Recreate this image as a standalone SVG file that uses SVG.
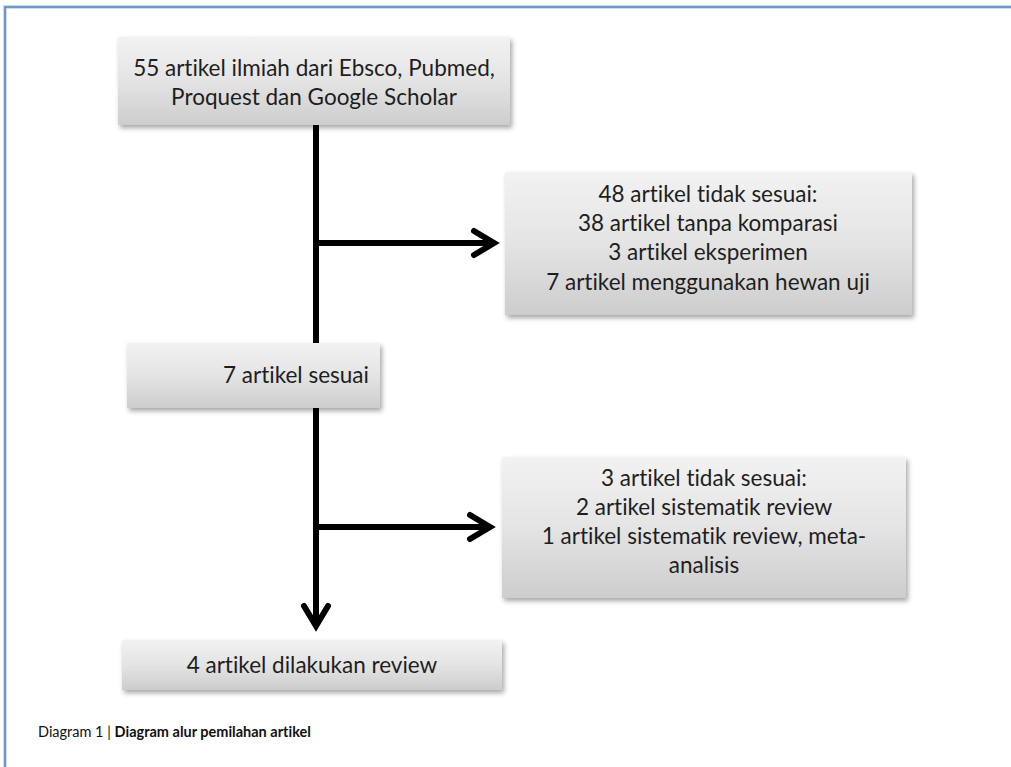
<svg xmlns="http://www.w3.org/2000/svg" width="1011" height="767" viewBox="0 0 1011 767">
  <defs>
    <linearGradient id="boxfill" x1="0" y1="0" x2="0" y2="1">
      <stop offset="0" stop-color="#f2f2f2"/>
      <stop offset="0.5" stop-color="#e4e4e4"/>
      <stop offset="1" stop-color="#cdcdcd"/>
    </linearGradient>
    <filter id="shadow" x="-5%" y="-10%" width="112%" height="130%">
      <feDropShadow dx="2" dy="3" stdDeviation="2.5" flood-color="#000" flood-opacity="0.35"/>
    </filter>
    <style>
      .box { fill: url(#boxfill); filter: url(#shadow); }
      .lbl { font-family: Lato, "Liberation Sans", sans-serif; font-size: 22.5px; fill: #1e1e1e; text-anchor: middle; font-variant-ligatures: none; font-feature-settings: "liga" 0, "clig" 0; }
      .conn { stroke: #000; stroke-width: 6; fill: none; }
      .head { stroke: #000; stroke-width: 6; fill: none; stroke-linecap: round; stroke-linejoin: miter; }
      .cap { font-family: Lato, "Liberation Sans", sans-serif; font-size: 14.5px; fill: #111; font-variant-ligatures: none; font-feature-settings: "liga" 0, "clig" 0; }
    </style>
  </defs>
  <rect width="1011" height="767" fill="#fff"/>
  <g id="frame">
    <path d="M5,767 V7 H1011" fill="none" stroke="#c9dcf0" stroke-width="4"/>
    <path d="M5,767 V7 H1011" fill="none" stroke="#4f81bd" stroke-width="1.5"/>
  </g>

  <g id="connectors">
    <line class="conn" x1="316" y1="125" x2="316" y2="343"/>
    <line class="conn" x1="316" y1="243" x2="494" y2="243"/>
    <polyline class="head" points="474,231 494,243 474,255"/>
    <line class="conn" x1="316" y1="408" x2="316" y2="626"/>
    <polyline class="head" points="304,606 316,626 328,606"/>
    <line class="conn" x1="316" y1="527" x2="490" y2="527"/>
    <polyline class="head" points="470,515 490,527 470,539"/>
  </g>

  <g id="node-source">
    <rect class="box" x="118" y="37" width="392" height="88"/>
    <text class="lbl" x="314" y="76">55 artikel ilmiah dari Ebsco, Pubmed,</text>
    <text class="lbl" x="314" y="105">Proquest dan Google Scholar</text>
  </g>

  <g id="node-excluded-1">
    <rect class="box" x="505" y="172" width="407" height="143"/>
    <text class="lbl" x="708" y="202">48 artikel tidak sesuai:</text>
    <text class="lbl" x="708" y="231">38 artikel tanpa komparasi</text>
    <text class="lbl" x="708" y="260">3 artikel eksperimen</text>
    <text class="lbl" x="708" y="290">7 artikel menggunakan hewan uji</text>
  </g>

  <g id="node-eligible">
    <rect class="box" x="127" y="343" width="253" height="65"/>
    <text class="lbl" x="296" y="383">7 artikel sesuai</text>
  </g>

  <g id="node-excluded-2">
    <rect class="box" x="502" y="457" width="404" height="141"/>
    <text class="lbl" x="704" y="486">3 artikel tidak sesuai:</text>
    <text class="lbl" x="704" y="515">2 artikel sistematik review</text>
    <text class="lbl" x="704" y="544">1 artikel sistematik review, meta-</text>
    <text class="lbl" x="704" y="573">analisis</text>
  </g>

  <g id="node-reviewed">
    <rect class="box" x="122" y="640" width="380" height="50"/>
    <text class="lbl" x="312" y="673">4 artikel dilakukan review</text>
  </g>

  <g id="caption">
    <text class="cap" x="38" y="737">Diagram 1 | <tspan font-weight="bold">Diagram alur pemilahan artikel</tspan></text>
  </g>
</svg>
